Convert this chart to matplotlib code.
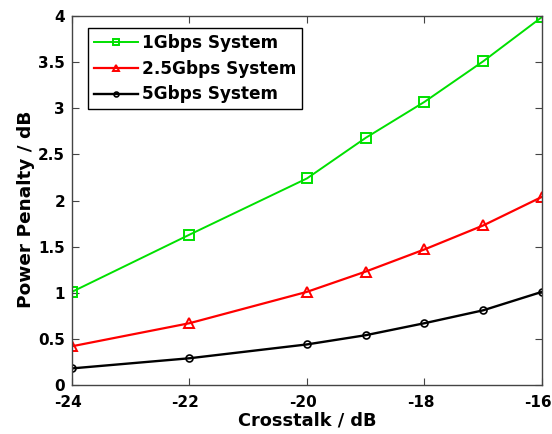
import matplotlib
matplotlib.use("Agg")
import matplotlib.pyplot as plt
import matplotlib.transforms as mtransforms

# Values
crosstalk = [-24, -22, -20, -19, -18, -17, -16]
pp_1g = [1.01, 1.63, 2.24, 2.68, 3.07, 3.51, 3.99]
pp_25g = [0.42, 0.67, 1.01, 1.23, 1.47, 1.73, 2.04]
pp_5g = [0.18, 0.29, 0.44, 0.54, 0.67, 0.81, 1.01]

plt.rcParams["font.family"] = ["DejaVu Sans"]
plt.rcParams["font.weight"] = "bold"
plt.rcParams["axes.unicode_minus"] = False

fig = plt.figure(figsize=(5.52, 4.34), dpi=100)
ax = fig.add_axes([0.1304, 0.1129, 0.8514, 0.850])

ax.plot(crosstalk, pp_1g, color="#00e000", marker="s", markersize=6.5,
        markerfacecolor="none", markeredgewidth=1.4, linewidth=1.4,
        label="1Gbps System")
ax.plot(crosstalk, pp_25g, color="#ff0000", marker="^", markersize=7,
        markerfacecolor="none", markeredgewidth=1.4, linewidth=1.6,
        label="2.5Gbps System")
ax.plot(crosstalk, pp_5g, color="black", marker="o", markersize=5,
        markerfacecolor="none", markeredgewidth=1.2, linewidth=1.7,
        label="5Gbps System")

ax.set_xlim(-24, -16)
ax.set_ylim(0, 4)
ax.set_xticks([-24, -22, -20, -18, -16])
ax.set_yticks([0, 0.5, 1, 1.5, 2, 2.5, 3, 3.5, 4])
ax.set_yticklabels(["0", "0.5", "1", "1.5", "2", "2.5", "3", "3.5", "4"])
ax.tick_params(direction="in", top=True, right=True, length=5,
               labelsize=11, color="#444444")
ax.tick_params(axis="x", pad=7)
ax.tick_params(axis="y", pad=5)
shift = mtransforms.ScaledTranslation(-4 / 100, 0, fig.dpi_scale_trans)
for lbl in ax.get_xticklabels():
    lbl.set_fontweight("bold")
    lbl.set_transform(lbl.get_transform() + shift)
for lbl in ax.get_yticklabels():
    lbl.set_fontweight("bold")
for sp in ax.spines.values():
    sp.set_color("#444444")
    sp.set_linewidth(1.0)

ax.set_xlabel("Crosstalk / dB", fontsize=12.8, fontweight="bold", labelpad=1)
ax.set_ylabel("Power Penalty / dB", fontsize=13.3, fontweight="bold")
ax.yaxis.set_label_coords(-0.079, 0.476)

leg = ax.legend(loc="upper left", bbox_to_anchor=(0.034, 0.967), fancybox=False,
                edgecolor="black", framealpha=1, handlelength=2.6,
                handletextpad=0.25, borderpad=0.35, borderaxespad=0,
                labelspacing=0.45, markerscale=0.7,
                prop={"size": 12.2, "weight": "bold"})
leg.get_frame().set_linewidth(1.0)

fig.savefig("out.png", dpi=100)
